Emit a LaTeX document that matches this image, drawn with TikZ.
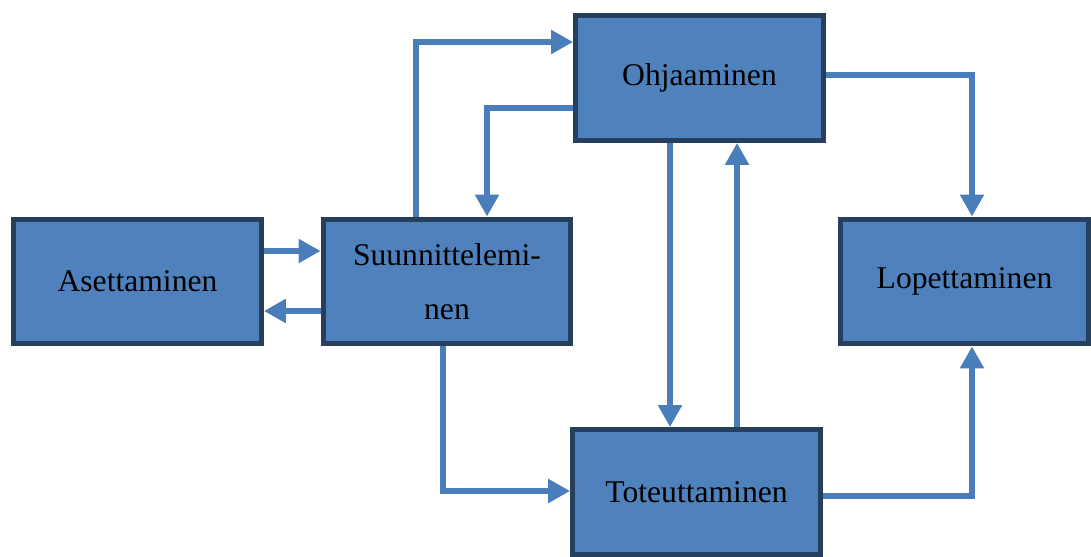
\documentclass[tikz,border=0pt]{standalone}
\usepackage{fontspec}
\setmainfont{Liberation Serif}
\usepackage{color}
\usetikzlibrary{arrows.meta,positioning,calc}
\definecolor{boxfill}{HTML}{4F81BD}
\definecolor{boxline}{HTML}{263F5F}
\definecolor{arrline}{HTML}{4A7EBB}

\begin{document}
\begin{tikzpicture}[x=0.02cm, y=-0.02cm,
    >={Triangle[length=0.44cm,width=0.46cm]},
    phase/.style={draw=boxline, fill=boxfill, line width=0.1cm,
      minimum width=4.96cm, minimum height=2.5cm, align=center,
      font=\fontsize{18}{31}\selectfont},
    arr/.style={->, draw=arrline, line width=0.135cm}]
    \useasboundingbox (0,0) rectangle (1091,557);
    \node [phase] (ase)  at (137.5,281.5) {Asettaminen};
    \node [phase] (suun) at (447,281.5)   {Suunnittelemi-\\nen};
    \node [phase] (ohj)  at (699.5,78)    {Ohjaaminen};
    \node [phase] (lop)  at (964.5,281.5) {Lopettaminen};
    \node [phase] (tot)  at (696.5,492)   {Toteuttaminen};
    \draw [arr] (ase.east |- 0,251) -- (suun.west |- 0,251);
    \draw [arr] (suun.west |- 0,311) -- (ase.east |- 0,311);
    \draw [arr] (suun.north -| 416,0) |- (ohj.west |- 0,42);
    \draw [arr] (ohj.west |- 0,108) -| (suun.north -| 487,0);
    \draw [arr] (ohj.south -| 670,0) -- (tot.north -| 670,0);
    \draw [arr] (tot.north -| 737,0) -- (ohj.south -| 737,0);
    \draw [arr] (ohj.east |- 0,75) -| (lop.north -| 972,0);
    \draw [arr] (suun.south -| 443,0) |- (tot.west |- 0,491);
    \draw [arr] (tot.east |- 0,496) -| (lop.south -| 972,0);
\end{tikzpicture}
\end{document}
